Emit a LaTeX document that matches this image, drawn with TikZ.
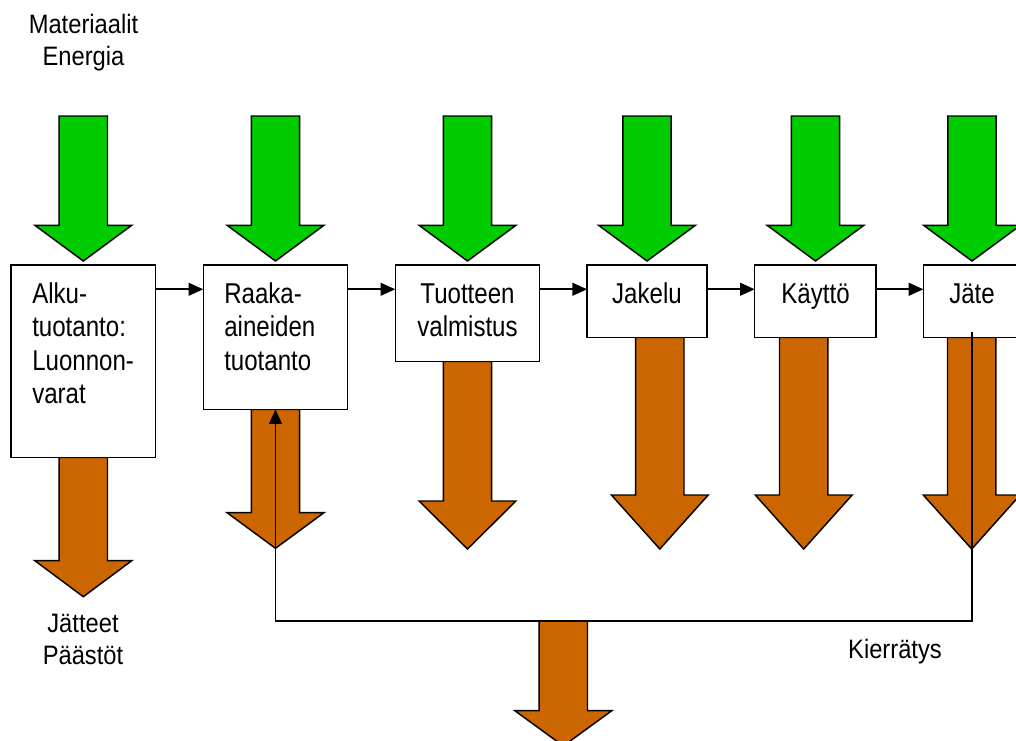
\documentclass[tikz,border=0pt]{standalone}
\usepackage{fontspec}
\setmainfont{Liberation Sans}
\newfontfamily\vaihefont[FakeStretch=0.84]{Liberation Sans}
\newfontfamily\ulkofont[FakeStretch=0.89]{Liberation Sans}
\usetikzlibrary{positioning}
\usetikzlibrary{arrows.meta}

\definecolor{syotevari}{HTML}{00CC00}
\definecolor{paastovari}{HTML}{CC6600}

\tikzset{
  vaihe/.style={draw=black, fill=white, line width=1.1pt, inner sep=0pt, outer sep=0pt, anchor=north west},
  vaiheteksti/.style={inner sep=0pt, font=\vaihefont\fontsize{21.5}{25.1}\selectfont},
  ulkoteksti/.style={inner sep=0pt, align=center, font=\ulkofont\fontsize{20}{24}\selectfont},
  syote/.style={draw=black, fill=syotevari, line width=1.1pt},
  paasto/.style={draw=black, fill=paastovari, line width=1.1pt},
  kulku/.style={draw=black, line width=1.4pt, -{Triangle[length=11pt, width=9.5pt]}},
}

\begin{document}
\begin{tikzpicture}[x=0.75pt, y=-0.75pt]
\useasboundingbox (0,0) rectangle (1016,740);
\clip (0,0) rectangle (1016,740);

% paastot ulos
\foreach \cx/\ya/\yb/\yc in {83.3/457.3/560.7/596.7, 275.5/409.3/512.7/548.3, 467.5/361.3/501/549, 659.8/337.5/495/549, 803.7/337.5/495/549, 971.7/337.5/495/549, 563.3/621/710.7/746}
  \draw[paasto] (\cx-24.2,\ya) -- (\cx+24.2,\ya) -- (\cx+24.2,\yb) -- (\cx+48.4,\yb) -- (\cx,\yc) -- (\cx-48.4,\yb) -- (\cx-24.2,\yb) -- cycle;

% materiaalit ja energia sisaan
\foreach \cx in {83.3, 275.5, 467.5, 647, 815.5, 972}
  \draw[syote] (\cx-24.2,116) -- (\cx+24.2,116) -- (\cx+24.2,225.3) -- (\cx+48.4,225.3) -- (\cx,261) -- (\cx-48.4,225.3) -- (\cx-24.2,225.3) -- cycle;

% vaiheet
\node[vaihe, minimum width=108.5pt, minimum height=144.2pt] (alku) at (11,265) {};
\node[vaihe, minimum width=108.3pt, minimum height=108.2pt, right=35.7pt of alku.north east, anchor=north west] (raaka) {};
\node[vaihe, minimum width=108.2pt, minimum height=72.2pt, right=35.7pt of raaka.north east, anchor=north west] (tuote) {};
\node[vaihe, minimum width=90pt, minimum height=54.4pt, right=35.7pt of tuote.north east, anchor=north west] (jakelu) {};
\node[vaihe, minimum width=90.8pt, minimum height=54.4pt, right=35.7pt of jakelu.north east, anchor=north west] (kaytto) {};
\node[vaihe, minimum width=73pt, minimum height=54.4pt, right=35.7pt of kaytto.north east, anchor=north west] (jate) {};

% base = viimeisen rivin perusviiva
\node[vaiheteksti, align=left, anchor=base west] (alkuT) at (32,403.8) {Alku-\\tuotanto:\\Luonnon-\\varat};
\node[vaiheteksti, align=left, anchor=base west] (raakaT) at (224,370.3) {Raaka-\\aineiden\\tuotanto};
\node[vaiheteksti, align=center, anchor=base] (tuoteT) at (467.5,336.8) {Tuotteen\\valmistus};
\node[vaiheteksti, anchor=base] (jakeluT) at (647,303.3) {Jakelu};
\node[vaiheteksti, anchor=base] (kayttoT) at (815.5,303.3) {Käyttö};
\node[vaiheteksti, anchor=base] (jateT) at (972,303.3) {Jäte};

\node[ulkoteksti, anchor=base] (syoteT) at (83.5,65.3) {Materiaalit\\Energia};
\node[ulkoteksti, anchor=base] (paastoT) at (83,664) {Jätteet\\Päästöt};
\node[ulkoteksti, anchor=base] (kiertoT) at (895,658.3) {Kierrätys};

% vaiheesta toiseen
\foreach \a/\b in {alku/raaka, raaka/tuote, tuote/jakelu, jakelu/kaytto, kaytto/jate}
  \draw[kulku] ([yshift=-18.2pt]\a.north east) -- ([yshift=-18.2pt]\b.north west);

% kierratys takaisin
\coordinate (kierto) at (0,621);
\draw[kulku] ([yshift=4pt]jate.south) -- (jate.south |- kierto) -- (raaka.south |- kierto) -- (raaka.south);
\end{tikzpicture}
\end{document}
